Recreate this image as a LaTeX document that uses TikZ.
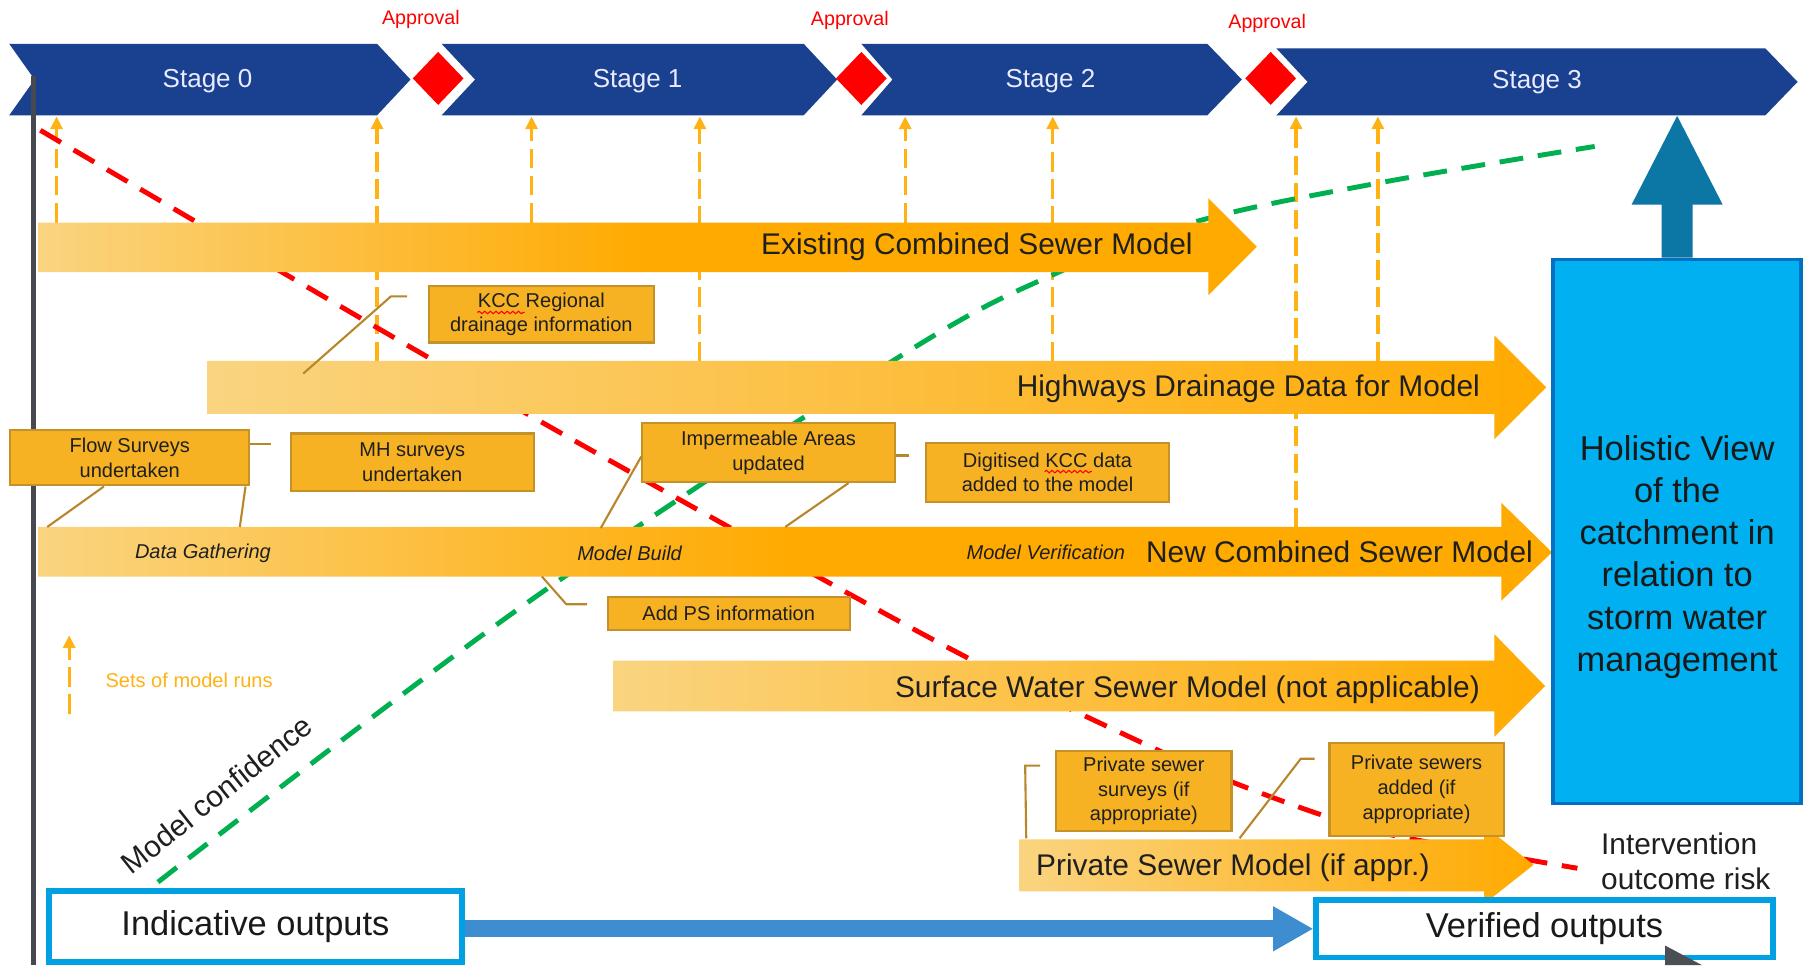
\documentclass[tikz,border=0pt]{standalone}
\usepackage{fontspec}
\setmainfont{Liberation Sans}
\usetikzlibrary{arrows.meta,calc,decorations.pathmorphing}

\definecolor{bannerblue}{RGB}{26,65,143}
\definecolor{approvalred}{RGB}{255,0,0}
\definecolor{runorange}{RGB}{255,178,20}
\definecolor{barlight}{RGB}{250,212,128}
\definecolor{barfull}{RGB}{255,170,0}
\definecolor{callfill}{RGB}{246,178,34}
\definecolor{calledge}{RGB}{196,146,40}
\definecolor{leadercol}{RGB}{184,134,43}
\definecolor{confgreen}{RGB}{0,176,80}
\definecolor{riskred}{RGB}{255,0,0}
\definecolor{axisgrey}{RGB}{70,74,80}
\definecolor{holifill}{RGB}{0,176,240}
\definecolor{holiedge}{RGB}{0,112,192}
\definecolor{upteal}{RGB}{12,118,164}
\definecolor{outedge}{RGB}{0,160,226}
\definecolor{flowblue}{RGB}{61,141,208}
\definecolor{cornergrey}{RGB}{74,79,85}

\newcommand{\upx}{0.01153cm}

\tikzset{
	stagetext/.style={text=white!92!blue, font=\fontsize{7.4}{9}\selectfont, inner sep=0pt},
	approval/.style={text=approvalred, font=\fontsize{5.6}{7}\selectfont, inner sep=0pt},
	runs/.style={runorange, line width=0.9pt, dash pattern=on 5.5pt off 2.2pt, -{Triangle[length=3.6pt,width=3.4pt]}},
	runlabel/.style={text=runorange, font=\fontsize{5.7}{7}\selectfont, inner sep=0pt},
	trend/.style={line width=1.4pt, dash pattern=on 6.8pt off 4.2pt},
	trendlabel/.style={text=black!88, font=\fontsize{8.5}{10.2}\selectfont, inner sep=0pt},
	barlabel/.style={text=black!88, font=\fontsize{8.5}{10}\selectfont, inner sep=0pt},
	phase/.style={text=black!88, font=\fontsize{5.7}{7}\selectfont\itshape, inner sep=0pt},
	callout/.style={draw=calledge, fill=callfill, line width=0.6pt, text=black!88, font=\fontsize{5.7}{7}\selectfont, align=center, inner sep=0pt},
	leader/.style={leadercol, line width=0.6pt},
	squiggle/.style={riskred, line width=0.3pt, decorate, decoration={snake, amplitude=0.35pt, segment length=1.6pt}},
	outbox/.style={draw=outedge, fill=white, line width=1.6pt, text=black!90, font=\fontsize{9.8}{12}\selectfont, inner sep=0pt},
}

\begin{document}
\begin{tikzpicture}[x=\upx, y=-\upx]
			\path[use as bounding box, fill=white] (0,0) rectangle (1568,837);

			% Sets of model runs
				\foreach \x/\y in {49/193, 327/313, 461/193, 607/313, 785/193, 913/313, 1124/457, 1195/313}
					\draw[runs] (\x,\y) -- (\x,101);

			% Model confidence and risk
				\draw[trend, confgreen] plot[smooth, tension=0.6] coordinates {(137,765) (454,525) (779,310) (916,237) (1038,192) (1194,159) (1383,127)};
				\draw[trend, riskred] plot[smooth, tension=0.6] coordinates {(35,113) (375,312) (632,457) (842,572) (1003,650) (1068,678) (1153,709) (1216,726) (1368,753)};

			% Stages
				\fill[bannerblue] (8,38) -- (327,38) -- (356,69) -- (327,100) -- (8,100) -- (30,69) -- cycle;
				\fill[bannerblue] (383,38) -- (697,38) -- (726,69) -- (697,100) -- (383,100) -- (412,69) -- cycle;
				\fill[bannerblue] (747,38) -- (1047,38) -- (1077,69) -- (1047,100) -- (747,100) -- (774,69) -- cycle;
				\fill[bannerblue] (1107,42) -- (1531,42) -- (1559,71) -- (1531,100) -- (1107,100) -- (1134,71) -- cycle;
				\node[stagetext] (stage0) at (180,70) {Stage 0};
				\node[stagetext] (stage1) at (553,70) {Stage 1};
				\node[stagetext] (stage2) at (911,70) {Stage 2};
				\node[stagetext] (stage3) at (1333,71) {Stage 3};

			% Approval gates
				\fill[approvalred] (380,45) -- (402,68) -- (380,91) -- (358,68) -- cycle;
				\fill[approvalred] (747,45) -- (769,68) -- (747,91) -- (725,68) -- cycle;
				\fill[approvalred] (1102,45) -- (1124,68) -- (1102,91) -- (1080,68) -- cycle;
				\node[approval] (appr1) at (365,17) {Approval};
				\node[approval] (appr2) at (737,18) {Approval};
				\node[approval] (appr3) at (1099,20) {Approval};

			% Axis
				\draw[axisgrey, line width=1.2pt] (29,66) -- (29,837);

			% Model bars
				\shade[left color=barlight, right color=barfull, middle color=barfull] (33,193) -- (1048,193) -- (1048,172) -- (1090,214) -- (1048,256) -- (1048,236) -- (33,236) -- cycle;
				\shade[left color=barlight, right color=barfull] (180,313) -- (1296,313) -- (1296,291) -- (1341,336) -- (1296,381) -- (1296,359) -- (180,359) -- cycle;
				\shade[left color=barlight, right color=barfull, middle color=barfull] (33,457) -- (1302,457) -- (1302,436) -- (1346,479) -- (1302,521) -- (1302,500) -- (33,500) -- cycle;
				\shade[left color=barlight, right color=barfull] (532,573) -- (1296,573) -- (1296,550) -- (1340,595) -- (1296,639) -- (1296,617) -- (532,617) -- cycle;
				\shade[left color=barlight, right color=barfull] (884,728) -- (1287,728) -- (1287,716) -- (1330,750) -- (1287,784) -- (1287,773) -- (884,773) -- cycle;

				\node[barlabel, anchor=east] (existing) at (1035,214) {Existing Combined Sewer Model};
				\node[barlabel, anchor=east] (highways) at (1284,337) {Highways Drainage Data for Model};
				\node[barlabel, anchor=east] (newmodel) at (1330,479) {New Combined Sewer Model};
				\node[barlabel, anchor=east] (surface) at (1284,598) {Surface Water Sewer Model (not applicable)};
				\node[barlabel, anchor=west] (private) at (898,753) {Private Sewer Model (if appr.)};

				\node[phase] (gather) at (176,480) {Data Gathering};
				\node[phase] (build) at (546,480) {Model Build};
				\node[phase] (verify) at (907,479) {Model Verification};

			% Callouts
				\coordinate (flowfootA) at (41,457);
				\coordinate (flowfootB) at (208,457);
				\coordinate (kccfoot) at (263,324);
				\coordinate (impfootA) at (521,458);
				\coordinate (impfootB) at (681,457);
				\coordinate (psfoot) at (470,500);
				\coordinate (survfoot) at (890,727);
				\coordinate (addfoot) at (1075,727);

				\node[callout, minimum width=207*\upx, minimum height=48*\upx] (flow) at (112.5,397) {Flow Surveys\\undertaken};
				\node[callout, minimum width=211*\upx, minimum height=50*\upx] (mh) at (357.5,401) {MH surveys\\undertaken};
				\node[callout, minimum width=195*\upx, minimum height=49*\upx] (kcc) at (469.5,272.5) {KCC Regional\\drainage information};
				\node[callout, minimum width=219*\upx, minimum height=51*\upx] (imperm) at (666.5,392.5) {Impermeable Areas\\updated};
				\node[callout, minimum width=211*\upx, minimum height=51*\upx] (digit) at (908.5,409.5) {Digitised KCC data\\added to the model};
				\node[callout, minimum width=210*\upx, minimum height=28*\upx] (addps) at (632,532) {Add PS information};
				\node[callout, minimum width=152*\upx, minimum height=70*\upx] (privsurv) at (992,686) {Private sewer\\surveys (if\\appropriate)};
				\node[callout, minimum width=151*\upx, minimum height=81*\upx] (privadd) at (1228.5,684.5) {Private sewers\\added (if\\appropriate)};

				\draw[leader] ($(flow.south west)+(82,0)$) -- (flowfootA);
				\draw[leader] ($(flow.south east)+(-4,0)$) -- (flowfootB);
				\draw[leader] ($(flow.east)+(0,-12)$) -- ++(18,0);
				\draw[leader] ($(kcc.west)+(-18,-15.5)$) -- ++(-14,0) -- (kccfoot);
				\draw[leader] ($(imperm.west)+(0,3.5)$) -- (impfootA);
				\draw[leader] ($(imperm.south east)+(-41,0)$) -- (impfootB);
				\draw[leader] ($(imperm.east)+(0,2.5)$) -- ++(11,0);
				\draw[leader] ($(addps.west)+(-17,-8)$) -- ++(-18,0) -- (psfoot);
				\draw[leader] ($(privsurv.west)+(-13,-22)$) -- ++(-13,0) -- (survfoot);
				\draw[leader] ($(privadd.west)+(-12,-26.5)$) -- ++(-12,0) -- (addfoot);

				\draw[squiggle] (414,271) -- (455,271);
				\draw[squiggle] (906,409) -- (947,409);

			% Legend and trend labels
				\draw[runs] (60,619) -- (60,551);
				\node[runlabel, anchor=west] (runkey) at (91,590) {Sets of model runs};
				\node[trendlabel, rotate=38.5] (conf) at (188,689) {Model confidence};
				\node[trendlabel, align=left, anchor=west] (risk) at (1388,747) {Intervention\\outcome risk};

			% Holistic view
				\node[draw=holiedge, fill=holifill, line width=1pt, minimum width=215*\upx, minimum height=472*\upx] (holi) at (1454.5,461) {};
				\node[align=center, text=black!90, font=\fontsize{9.8}{12}\selectfont, inner sep=0pt] (holitext) at ($(holi.center)+(0,22)$) {Holistic View\\of the\\catchment in\\relation to\\storm water\\management};
				\fill[upteal] ($(holi.north)+(-13.5,0)$) -- ++(0,-46) -- ++(-26,0) -- ($(holi.north)+(0,-123)$) -- ++(39.5,77) -- ++(-26,0) -- ++(0,46) -- cycle;

			% Outputs
				\node[outbox, minimum width=358*\upx, minimum height=62*\upx] (indic) at (221.5,803.5) {Indicative outputs};
				\node[outbox, minimum width=396*\upx, minimum height=50*\upx] (verif) at (1339.5,805.5) {Verified outputs};
				\draw[flowblue, line width=4.8pt, -{Triangle[length=11.5pt,width=12pt]}] (indic.east |- verif.west) -- (verif.west);
				\fill[cornergrey] (1444,820) -- (1476,837) -- (1444,837) -- cycle;
		\end{tikzpicture}
\end{document}
